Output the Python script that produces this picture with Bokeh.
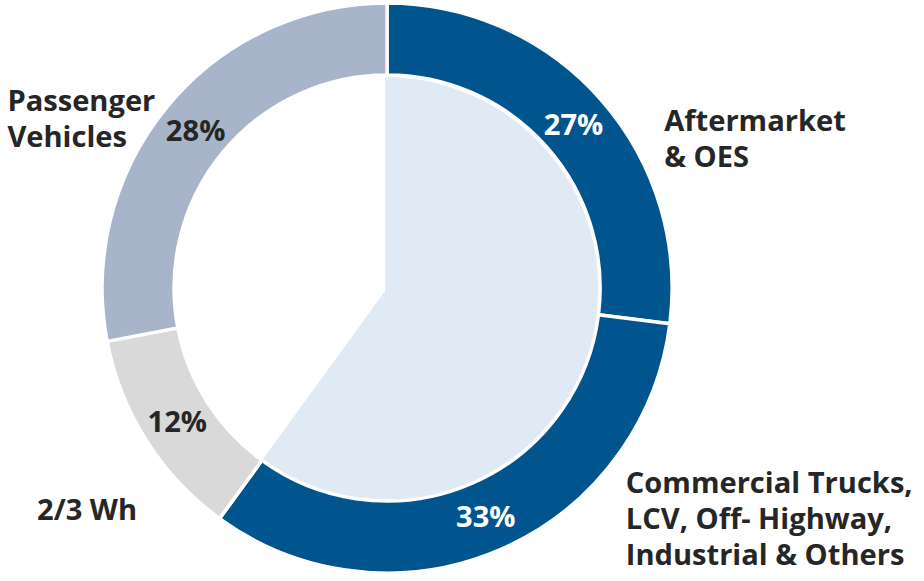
import math
from bokeh.plotting import figure
from bokeh.models import Range1d, ColumnDataSource
from bokeh.core.properties import value
from bokeh.embed import file_html
from bokeh.resources import INLINE

# ---- data (clockwise from 12 o'clock) ----
categories = ["Aftermarket\n& OES",
              "Commercial Trucks,\nLCV, Off- Highway,\nIndustrial & Others",
              "2/3 Wh",
              "Passenger\nVehicles"]
shares = [27, 33, 12, 28]
pct_labels = ["27%", "33%", "12%", "28%"]
colors = ["#00558F", "#00558F", "#D9D9D9", "#A7B4CA"]
pct_colors = ["white", "white", "#262626", "#262626"]
highlight = [True, True, False, False]   # segments covered by the inner light-blue wedge

# ---- layout (reference pixels; data y = REF_H - pixel y) ----
W, H = 916, 573
REF_W, REF_H = 924, 581
S = H / REF_H                     # uniform scale so the whole chart fits
cx, cy = 392, REF_H - 291.5
r_in, r_out = 216, 289
r_lab = 252
FONT = "Open Sans"
fs = f"{29.5 * S:.1f}px"

p = figure(width=W, height=H, x_range=Range1d(0, W / S), y_range=Range1d(0, H / S),
           output_backend="svg", toolbar_location=None, min_border=0,
           outline_line_color=None, background_fill_color="white",
           border_fill_color="white")
p.axis.visible = False
p.grid.visible = False

total = sum(shares)
starts, ends, mids = [], [], []
acc = 0
for s in shares:
    a0 = 90 - acc / total * 360
    acc += s
    a1 = 90 - acc / total * 360
    starts.append(math.radians(a0))
    ends.append(math.radians(a1))
    mids.append(math.radians((a0 + a1) / 2))

# inner light-blue wedge covering highlighted share
hi_share = sum(s for s, h in zip(shares, highlight) if h)
p.wedge(x=[cx - 2], y=[cy - 3], radius=r_in + 1, start_angle=[math.radians(90)],
        end_angle=[math.radians(90 - hi_share / total * 360)], direction="clock",
        fill_color="#DFEAF5", line_color=None)

src = ColumnDataSource(dict(x=[cx] * 4, y=[cy] * 4, start=starts, end=ends, color=colors))
p.annular_wedge(x="x", y="y", inner_radius=r_in, outer_radius=r_out,
                start_angle="start", end_angle="end", direction="clock",
                fill_color="color", line_color="white", line_width=3.5, source=src)

lx = [cx + r_lab * math.cos(m) for m in mids]
ly = [cy + r_lab * math.sin(m) for m in mids]
p.text(x=lx, y=ly, text=pct_labels, text_color=pct_colors,
       text_font=value(FONT), text_font_style="bold", text_font_size=fs,
       text_align="center", text_baseline="middle")

# category labels (one text per line)
cat_x = [673, 634, 37, 7]
cat_y_top = [121, 488, 516, 101]   # pixel y of first line centre
line_gap = 36.5
xs, ys, ts = [], [], []
for t, x, y in zip(categories, cat_x, cat_y_top):
    for i, line in enumerate(t.split("\n")):
        xs.append(x)
        ys.append(REF_H - (y + i * line_gap))
        ts.append(line)
p.text(x=xs, y=ys, text=ts, text_color="#262626",
       text_font=value(FONT), text_font_style="bold", text_font_size=fs,
       text_align="left", text_baseline="middle")

open("out.html", "w").write(file_html(p, INLINE))
